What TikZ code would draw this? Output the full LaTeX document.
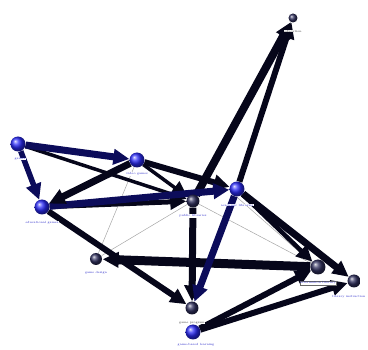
\documentclass[tikz,border=0pt]{standalone}
\usetikzlibrary{arrows.meta,shadings}
\definecolor{eblack}{HTML}{06061A}
\definecolor{enavy}{HTML}{0C0C5A}
\definecolor{bbright}{HTML}{2A2AF8}
\definecolor{bdark}{HTML}{30305E}
\definecolor{lblue}{HTML}{2424C8}
\begin{document}
\begin{tikzpicture}[x=1pt,y=-1pt,
  ball/.style={circle,inner sep=0pt,minimum size=#1},
  lab/.style={font=\fontsize{3}{3.5}\selectfont,text=lblue,fill=white,inner sep=0.4pt},
  labk/.style={lab,text=black!80},
  edge/.style={line width=#1,draw=eblack,-{Triangle[length=16pt,width=15pt]}},
  nedge/.style={edge=#1,draw=enavy},
  thin/.style={draw=gray!70,line width=0.5pt}]
\useasboundingbox (0,0) rectangle (368,350);
% node coordinates
\coordinate (pg) at (18,144);
\coordinate (pv) at (137,160);
\coordinate (pe) at (42,207);
\coordinate (pp) at (193,201);
\coordinate (pa) at (237,189);
\coordinate (pd) at (293,18);
\coordinate (pgd) at (96,259);
\coordinate (pgp) at (192,308);
\coordinate (pgb) at (193,332);
\coordinate (pil) at (318,267);
\coordinate (pli) at (354,281);
% nodes (anchors for edges)
\node[ball=15pt] (games) at (pg) {};
\node[ball=15pt] (vg) at (pv) {};
\node[ball=15pt] (eg) at (pe) {};
\node[ball=13pt] (pl) at (pp) {};
\node[ball=15pt] (al) at (pa) {};
\node[ball=9pt] (ed) at (pd) {};
\node[ball=13pt] (gd) at (pgd) {};
\node[ball=13pt] (gp) at (pgp) {};
\node[ball=15pt] (gb) at (pgb) {};
\node[ball=15pt] (il) at (pil) {};
\node[ball=13pt] (li) at (pli) {};
% thin edges
\draw[thin] (vg) -- (gd);
\draw[thin] (pl) -- (gd);
\draw[thin] (pl) -- (il);
\draw[thin] (al) -- (il);
\draw[thin] ([yshift=2pt]al.south west) -- ([yshift=-2pt]il.north west);
% thick edges
\draw[edge=3.5pt] (games) -- (pl);
\draw[edge=6pt] (vg) -- (al);
\draw[edge=3.5pt] (vg) -- (pl);
\draw[edge=5pt] (eg) -- (pl);
\draw[edge=8pt] (pl) -- (ed);
\draw[edge=6pt] (al) -- (ed);
\draw[edge=7pt] (al) -- (li);
\draw[edge=4.5pt] (al) -- (il);
\draw[edge=6pt] (eg) -- (gp);
\draw[edge=9pt] (il) -- (gd);
\draw[edge=7pt] (pl) -- (gp);
\draw[edge=6pt] (gb) -- (il);
\draw[edge=6pt] (gb) -- (li);
\draw[nedge=7pt] (al) -- (gp);
\draw[nedge=7pt] (eg) -- (al);
\draw[edge=7pt] (vg) -- (eg);
\draw[nedge=7pt] (games) -- (vg);
\draw[nedge=5.5pt] (games) -- (eg);
% balls
\shade[ball color=bbright] (pg) circle (7.5pt);
\shade[ball color=bbright] (pv) circle (7.5pt);
\shade[ball color=bbright] (pe) circle (7.5pt);
\shade[ball color=bdark] (pp) circle (6.5pt);
\shade[ball color=bbright] (pa) circle (7.5pt);
\shade[ball color=bdark] (pd) circle (4.5pt);
\shade[ball color=bdark] (pgd) circle (6pt);
\shade[ball color=bdark] (pgp) circle (6.5pt);
\shade[ball color=bbright] (pgb) circle (7.5pt);
\shade[ball color=bdark] (pil) circle (7.5pt);
\shade[ball color=bdark] (pli) circle (6.5pt);
% labels
\node[lab] (lg) at (20,159) {games};
\node[lab] (lv) at (137,174) {video games};
\node[lab] (le) at (42,223) {educational games};
\node[lab] (lp) at (193,216) {public libraries};
\node[lab] (la) at (237,205) {academic libraries};
\node[labk] (ld) at (293,31) {education};
\node[lab] (lgd) at (96,273) {game design};
\node[labk] (lgp) at (192,323) {game program};
\node[lab] (lgb) at (196,345) {game-based learning};
\node[lab,draw=black!60,line width=0.3pt] (lil) at (318,283) {information literacy};
\node[lab,anchor=east] (lli) at (366,297) {library instruction};
\end{tikzpicture}
\end{document}
